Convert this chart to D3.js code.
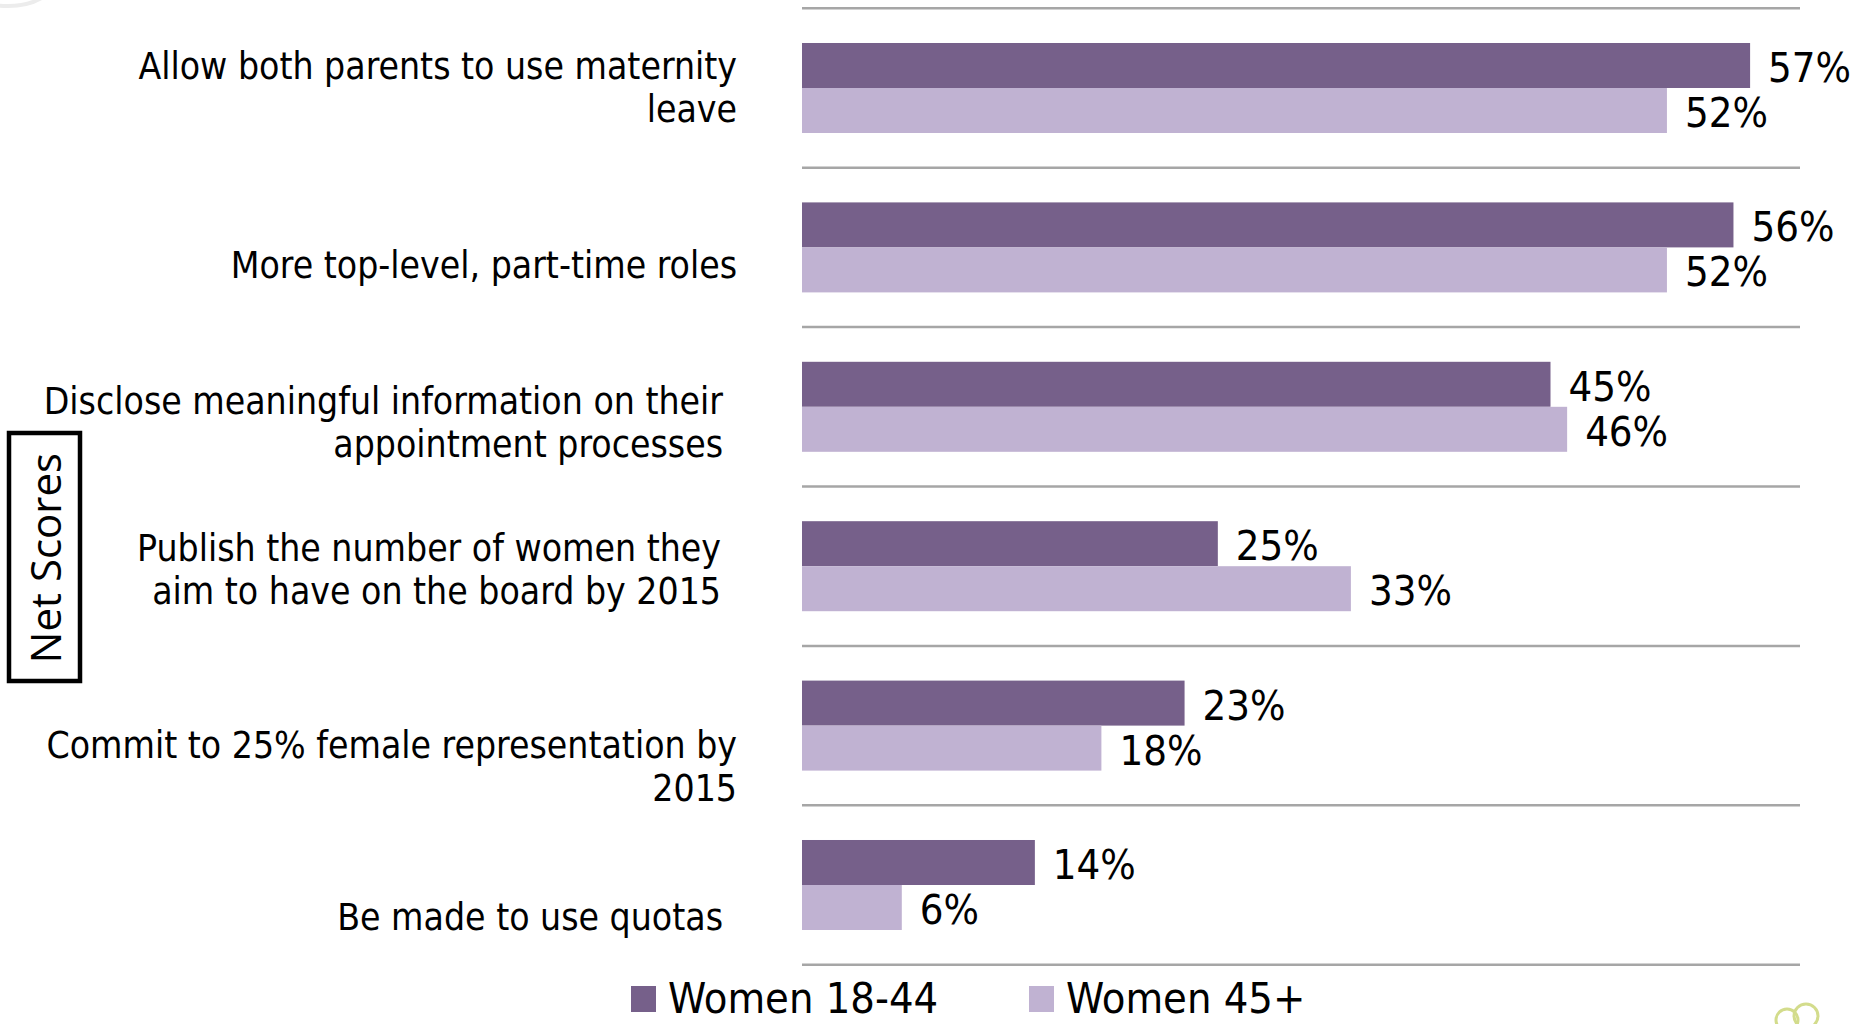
<!DOCTYPE html>
<html>
<head>
<meta charset="utf-8">
<script src="https://cdn.jsdelivr.net/npm/d3@7"></script>
<style>
  html, body { margin: 0; padding: 0; background: #fff; overflow: hidden; }
  .cond { font-family: 'DejaVu Sans Condensed', 'DejaVu Sans', sans-serif; font-stretch: condensed; }
</style>
</head>
<body>
<svg id="chart" width="1863" height="1024"></svg>
<script>
// Survey statements (line breaks as shown on the chart)
const categories = [
  "Allow both parents to use maternity\nleave",
  "More top-level, part-time roles",
  "Disclose meaningful information on their\nappointment processes",
  "Publish the number of women they\naim to have on the board by 2015",
  "Commit to 25% female representation by\n2015",
  "Be made to use quotas"
];

const seriesNames = ["Women 18-44", "Women 45+"];
const women18to44 = [57, 56, 45, 25, 23, 14];
const women45plus = [52, 52, 46, 33, 18, 6];
const seriesColors = ["#76608a", "#c0b2d2"];

const axisTitle = "Net Scores";

// Per-label text box placement (right edge, vertical nudge)
const labelRight = [737, 737, 723, 721, 737, 723];
const labelNudge = [-1, 17, 15, 3, 40, 31];

const svg = d3.select("#chart");

// faint decorative arc in the corner
svg.append("ellipse")
  .attr("cx", 8).attr("cy", -22).attr("rx", 48).attr("ry", 28)
  .attr("fill", "none").attr("stroke", "#ececec").attr("stroke-width", 4);

const x = d3.scaleLinear().domain([0, 60]).range([802, 1800]);
const y = d3.scaleBand().domain(d3.range(categories.length)).range([8.3, 964.7]).paddingInner(0).paddingOuter(0);
const ySub = d3.scaleBand().domain(seriesNames).range([0, y.bandwidth()]).paddingInner(0).paddingOuter(0.771);

const rows = categories.map((c, i) => ({
  i, label: c,
  values: [
    { name: seriesNames[0], v: women18to44[i], color: seriesColors[0] },
    { name: seriesNames[1], v: women45plus[i], color: seriesColors[1] }
  ]
}));

// gridlines at band boundaries
const bounds = d3.range(categories.length).map(i => y(i)).concat([y(categories.length - 1) + y.step()]);
svg.append("g").selectAll("line").data(bounds).join("line")
  .attr("x1", x(0)).attr("x2", x(60))
  .attr("y1", d => d).attr("y2", d => d)
  .attr("stroke", "#a6a6a6").attr("stroke-width", 2.5);

// bars
const groups = svg.append("g").selectAll("g").data(rows).join("g")
  .attr("transform", d => `translate(0,${y(d.i)})`);

groups.selectAll("rect").data(d => d.values).join("rect")
  .attr("x", x(0))
  .attr("y", d => ySub(d.name))
  .attr("width", d => x(d.v) - x(0))
  .attr("height", ySub.bandwidth())
  .attr("fill", d => d.color);

groups.selectAll("text.val").data(d => d.values).join("text")
  .attr("class", "val cond")
  .attr("x", d => x(d.v) + 18)
  .attr("y", d => ySub(d.name) + ySub.bandwidth() / 2)
  .attr("dy", "0.4em")
  .attr("font-size", 41.5)
  .attr("fill", "#000")
  .text(d => d.v + "%");

// category labels
const lineH = 43;
svg.append("g").selectAll("text").data(rows).join("text")
  .attr("class", "cond")
  .attr("font-size", 37)
  .attr("fill", "#000")
  .attr("text-anchor", "end")
  .each(function(d) {
    const lines = d.label.split("\n");
    const cy = y(d.i) + y.bandwidth() / 2;
    const first = cy - (lines.length - 1) * lineH / 2 + 13.5 + labelNudge[d.i];
    d3.select(this).selectAll("tspan").data(lines).join("tspan")
      .attr("x", labelRight[d.i])
      .attr("y", (l, k) => first + k * lineH)
      .text(l => l);
  });

// boxed vertical title
svg.append("rect")
  .attr("x", 9).attr("y", 433).attr("width", 71).attr("height", 248)
  .attr("fill", "none").attr("stroke", "#000").attr("stroke-width", 4.5);
svg.append("text")
  .attr("transform", "translate(46,558) rotate(-90)")
  .attr("text-anchor", "middle")
  .attr("dy", "0.36em")
  .attr("font-family", "'Open Sans', sans-serif")
  .attr("font-size", 42)
  .attr("fill", "#000")
  .text(axisTitle);

// legend
const legendX = [631, 1029];
const legend = svg.append("g").selectAll("g").data(seriesNames).join("g")
  .attr("transform", (d, i) => `translate(${legendX[i]},986)`);
legend.append("rect")
  .attr("width", 25).attr("height", 26)
  .attr("fill", (d, i) => seriesColors[i]);
legend.append("text")
  .attr("class", "cond")
  .attr("x", 37).attr("y", 27)
  .attr("font-size", 43)
  .attr("fill", "#000")
  .text(d => d);

// small corner emblem
const emblem = svg.append("g").attr("fill", "none").attr("stroke", "#d3dc8c").attr("stroke-width", 3);
emblem.append("circle").attr("cx", 1787).attr("cy", 1020).attr("r", 11);
emblem.append("circle").attr("cx", 1806).attr("cy", 1016).attr("r", 12);
</script>
</body>
</html>
